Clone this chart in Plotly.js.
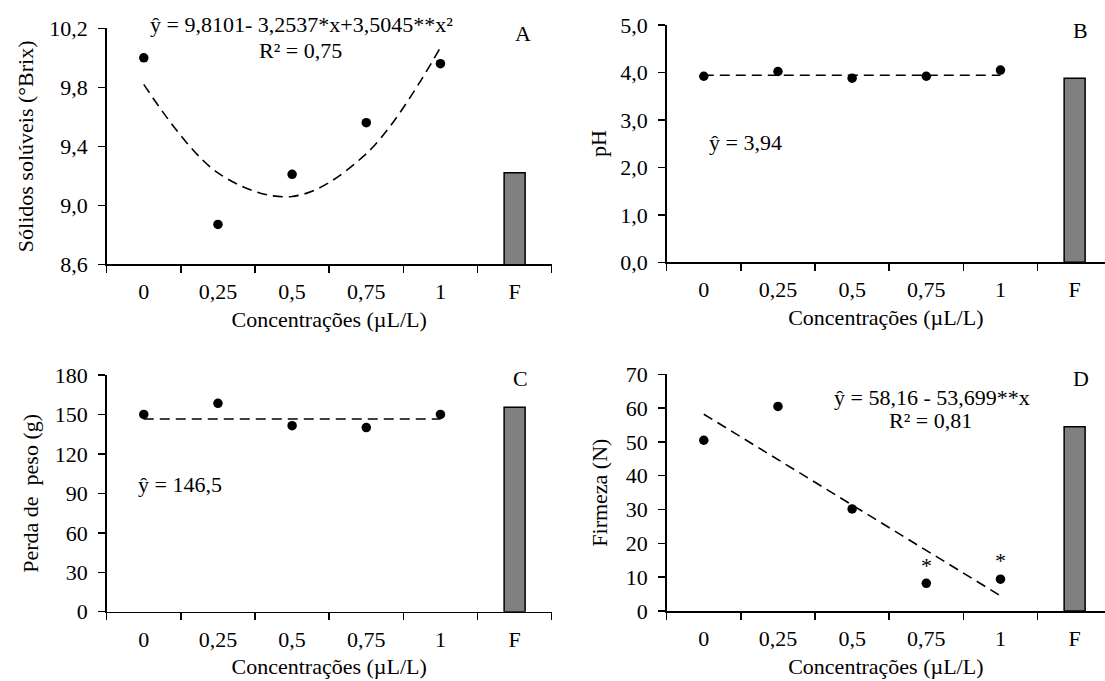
<!DOCTYPE html>
<html>
<head>
<meta charset="utf-8">
<script src="https://cdn.plot.ly/plotly-3.0.1.min.js"></script>
<style>html,body{margin:0;padding:0;background:#fff}#chart{width:1105px;height:681px}</style>
</head>
<body>
<div id="chart"></div>
<script>
// ---- data ----
const categories = ['0', '0,25', '0,5', '0,75', '1', 'F'];
const doses = ['0', '0,25', '0,5', '0,75', '1'];

const solidos = [10.00, 8.87, 9.21, 9.56, 9.96];
const solidosFit = [9.82, 9.22, 9.06, 9.35, 10.07];
const solidosF = [9.22];

const ph = [3.92, 4.02, 3.88, 3.92, 4.05];
const phFit = [3.94, 3.94, 3.94, 3.94, 3.94];
const phF = [3.88];

const perda = [150.0, 158.5, 141.5, 140.0, 150.0];
const perdaFit = [146.5, 146.5, 146.5, 146.5, 146.5];
const perdaF = [155.5];

const firmeza = [50.5, 60.5, 30.2, 8.2, 9.4];
const firmezaFitX = ['0', '1'];
const firmezaFit = [58.2, 4.5];
const firmezaF = [54.5];

const starX = ['0,75', '1'];
const starY = [13.5, 14.8];

// ---- layout helpers ----
const W = 1105, H = 681;
const px = x => x / W;
const py = y => 1 - y / H;
const catW = 74.17;
const FONT = 'Liberation Serif';
const FS = 22;

function dots(x, y, xa, ya) {
  return {type: 'scatter', mode: 'markers', x: x, y: y, xaxis: xa, yaxis: ya,
    marker: {color: '#000', size: 9.5}, cliponaxis: false, showlegend: false, hoverinfo: 'x+y'};
}
function fit(x, y, xa, ya, shape) {
  return {type: 'scatter', mode: 'lines', x: x, y: y, xaxis: xa, yaxis: ya,
    line: {color: '#000', width: 1.6, dash: '10px,6px', shape: shape || 'linear'},
    cliponaxis: false, showlegend: false, hoverinfo: 'skip'};
}
function bar(y, xa, ya) {
  return {type: 'bar', x: ['F'], y: y, xaxis: xa, yaxis: ya, width: 0.283,
    marker: {color: '#808080', line: {color: '#000', width: 1.5}}, showlegend: false};
}

const data = [
  fit(doses, solidosFit, 'x', 'y', 'spline'), dots(doses, solidos, 'x', 'y'), bar(solidosF, 'x', 'y'),
  fit(doses, phFit, 'x2', 'y2'), dots(doses, ph, 'x2', 'y2'), bar(phF, 'x2', 'y2'),
  fit(doses, perdaFit, 'x3', 'y3'), dots(doses, perda, 'x3', 'y3'), bar(perdaF, 'x3', 'y3'),
  fit(firmezaFitX, firmezaFit, 'x4', 'y4'), dots(doses, firmeza, 'x4', 'y4'), bar(firmezaF, 'x4', 'y4')
];

const tickFont = {family: FONT, size: FS, color: '#000'};
function xaxis(dom, rng, anchor) {
  return {domain: dom, anchor: anchor, type: 'category', categoryorder: 'array', categoryarray: categories,
    range: rng, tickson: 'boundaries', ticks: 'outside', ticklen: 7, tickwidth: 1.5, tickcolor: '#000',
    showline: true, linecolor: '#000', linewidth: 1.5, showgrid: false, zeroline: false,
    tickfont: tickFont, ticklabelstandoff: 7,
    title: {text: 'Concentrações (µL/L)', font: tickFont, standoff: 8}};
}
function yaxis(dom, rng, dtick, fmt, title, anchor, standoff) {
  return {domain: dom, anchor: anchor, range: rng, dtick: dtick, tick0: rng[0], tickformat: fmt,
    ticks: 'outside', ticklen: 7, tickwidth: 1.5, tickcolor: '#000',
    showline: true, linecolor: '#000', linewidth: 1.5, showgrid: false, zeroline: false,
    tickfont: tickFont, ticklabelstandoff: 6,
    title: {text: title, font: tickFont, standoff: standoff}};
}

const xLeft = [px(106.7), px(551.7)];
const xRight = [px(666.7), 1];
const rightRange = [-0.5, -0.5 + (W - 666.7) / catW];

function note(text, x, y, size) {
  return {text: text, xref: 'paper', yref: 'paper', x: px(x), y: py(y), xanchor: 'center', yanchor: 'middle',
    showarrow: false, font: {family: FONT, size: size || FS, color: '#000'}};
}

const layout = {
  width: W, height: H,
  margin: {l: 0, r: 0, t: 0, b: 0},
  paper_bgcolor: '#fff', plot_bgcolor: 'rgba(0,0,0,0)',
  separators: ',.',
  showlegend: false,
  bargap: 0,
  xaxis: xaxis(xLeft, [-0.5, 5.5], 'y'),
  yaxis: yaxis([py(264.3), py(28.3)], [8.6, 10.2], 0.4, '.1f', 'Sólidos solúveis (°Brix)', 'x', 9),
  xaxis2: xaxis(xRight, rightRange, 'y2'),
  yaxis2: yaxis([py(262.3), py(25)], [0, 5], 1, '.1f', 'pH', 'x2', 7),
  xaxis3: xaxis(xLeft, [-0.5, 5.5], 'y3'),
  yaxis3: yaxis([py(611.7), py(375)], [0, 180], 30, 'd', 'Perda de  peso (g)', 'x3', 10),
  xaxis4: xaxis(xRight, rightRange, 'y4'),
  yaxis4: yaxis([py(611), py(374.3)], [0, 70], 10, 'd', 'Firmeza (N)', 'x4', 12),
  annotations: [
    note('ŷ = 9,8101- 3,2537*x+3,5045**x²', 301, 25),
    note('R² = 0,75', 300, 50),
    note('A', 523, 33),
    note('B', 1080, 30),
    note('ŷ = 3,94', 745, 143),
    note('ŷ = 146,5', 180, 484),
    note('C', 520, 378),
    note('ŷ = 58,16 - 53,699**x', 932, 397),
    note('R² = 0,81', 930, 420),
    note('D', 1081, 378),
    ...starX.map((x, i) => ({text: '*', xref: 'x4', yref: 'y4', x: categories.indexOf(x), y: starY[i],
      showarrow: false, xanchor: 'center', yanchor: 'middle', font: {family: FONT, size: FS, color: '#000'}}))
  ]
};

Plotly.newPlot('chart', data, layout, {displayModeBar: false, staticPlot: true});
</script>
</body>
</html>
